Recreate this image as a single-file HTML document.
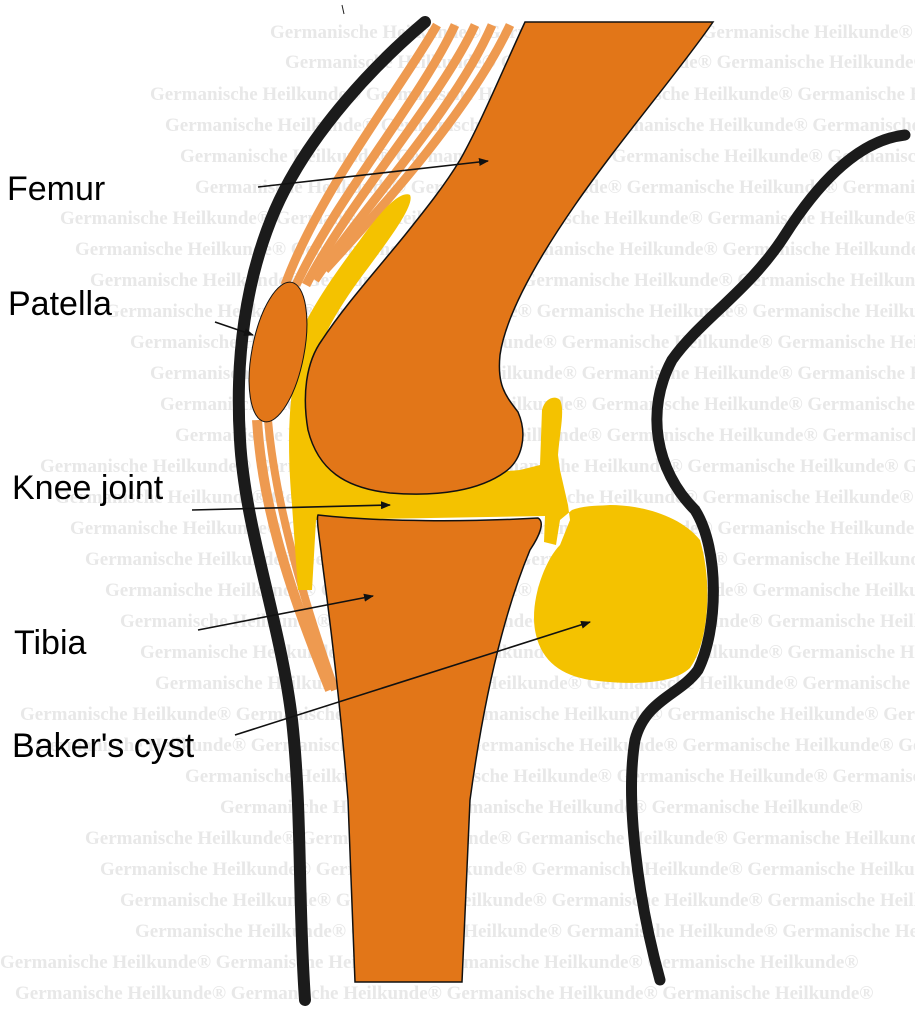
<!DOCTYPE html>
<html><head><meta charset="utf-8"><style>
html,body{margin:0;padding:0;background:#fff;}
svg{display:block;}
.wm{font-family:"Liberation Serif",serif;font-size:19px;fill:#e8e8e8;font-weight:bold;}
.lb{font-family:"Liberation Sans",sans-serif;font-size:34px;fill:#000;}
</style></head><body>
<svg width="915" height="1024" viewBox="0 0 915 1024" xmlns="http://www.w3.org/2000/svg">
<defs><marker id="ah" markerWidth="10" markerHeight="8" refX="9" refY="4" orient="auto" markerUnits="userSpaceOnUse" viewBox="0 0 10 8"><path d="M0,0 L10,4 L0,8 z" fill="#111"/></marker></defs>
<g class="wm">
<text x="270" y="38">Germanische Heilkunde®  Germanische Heilkunde®  Germanische Heilkunde®</text>
<text x="285" y="68">Germanische Heilkunde®  Germanische Heilkunde®  Germanische Heilkunde®</text>
<text x="150" y="100">Germanische Heilkunde®  Germanische Heilkunde®  Germanische Heilkunde®  Germanische Heilkunde®</text>
<text x="165" y="131">Germanische Heilkunde®  Germanische Heilkunde®  Germanische Heilkunde®  Germanische Heilkunde®</text>
<text x="180" y="162">Germanische Heilkunde®  Germanische Heilkunde®  Germanische Heilkunde®  Germanische Heilkunde®</text>
<text x="195" y="193">Germanische Heilkunde®  Germanische Heilkunde®  Germanische Heilkunde®  Germanische Heilkunde®</text>
<text x="60" y="224">Germanische Heilkunde®  Germanische Heilkunde®  Germanische Heilkunde®  Germanische Heilkunde®  Germanische Heilkunde®</text>
<text x="75" y="255">Germanische Heilkunde®  Germanische Heilkunde®  Germanische Heilkunde®  Germanische Heilkunde®  Germanische Heilkunde®</text>
<text x="90" y="286">Germanische Heilkunde®  Germanische Heilkunde®  Germanische Heilkunde®  Germanische Heilkunde®  Germanische Heilkunde®</text>
<text x="105" y="317">Germanische Heilkunde®  Germanische Heilkunde®  Germanische Heilkunde®  Germanische Heilkunde®  Germanische Heilkunde®</text>
<text x="130" y="348">Germanische Heilkunde®  Germanische Heilkunde®  Germanische Heilkunde®  Germanische Heilkunde®  Germanische Heilkunde®</text>
<text x="150" y="379">Germanische Heilkunde®  Germanische Heilkunde®  Germanische Heilkunde®  Germanische Heilkunde®  Germanische Heilkunde®</text>
<text x="160" y="410">Germanische Heilkunde®  Germanische Heilkunde®  Germanische Heilkunde®  Germanische Heilkunde®  Germanische Heilkunde®</text>
<text x="175" y="441">Germanische Heilkunde®  Germanische Heilkunde®  Germanische Heilkunde®  Germanische Heilkunde®  Germanische Heilkunde®</text>
<text x="40" y="472">Germanische Heilkunde®  Germanische Heilkunde®  Germanische Heilkunde®  Germanische Heilkunde®  Germanische Heilkunde®</text>
<text x="55" y="503">Germanische Heilkunde®  Germanische Heilkunde®  Germanische Heilkunde®  Germanische Heilkunde®  Germanische Heilkunde®</text>
<text x="70" y="534">Germanische Heilkunde®  Germanische Heilkunde®  Germanische Heilkunde®  Germanische Heilkunde®  Germanische Heilkunde®</text>
<text x="85" y="565">Germanische Heilkunde®  Germanische Heilkunde®  Germanische Heilkunde®  Germanische Heilkunde®  Germanische Heilkunde®</text>
<text x="105" y="596">Germanische Heilkunde®  Germanische Heilkunde®  Germanische Heilkunde®  Germanische Heilkunde®  Germanische Heilkunde®</text>
<text x="120" y="627">Germanische Heilkunde®  Germanische Heilkunde®  Germanische Heilkunde®  Germanische Heilkunde®  Germanische Heilkunde®</text>
<text x="140" y="658">Germanische Heilkunde®  Germanische Heilkunde®  Germanische Heilkunde®  Germanische Heilkunde®  Germanische Heilkunde®</text>
<text x="155" y="689">Germanische Heilkunde®  Germanische Heilkunde®  Germanische Heilkunde®  Germanische Heilkunde®</text>
<text x="20" y="720">Germanische Heilkunde®  Germanische Heilkunde®  Germanische Heilkunde®  Germanische Heilkunde®  Germanische Heilkunde</text>
<text x="35" y="751">Germanische Heilkunde®  Germanische Heilkunde®  Germanische Heilkunde®  Germanische Heilkunde®  Germanische Heilkunde</text>
<text x="185" y="782">Germanische Heilkunde®  Germanische Heilkunde®  Germanische Heilkunde®  Germanische Heilkunde</text>
<text x="220" y="813">Germanische Heilkunde®  Germanische Heilkunde®  Germanische Heilkunde®</text>
<text x="85" y="844">Germanische Heilkunde®  Germanische Heilkunde®  Germanische Heilkunde®  Germanische Heilkunde®</text>
<text x="100" y="875">Germanische Heilkunde®  Germanische Heilkunde®  Germanische Heilkunde®  Germanische Heilkunde®</text>
<text x="120" y="906">Germanische Heilkunde®  Germanische Heilkunde®  Germanische Heilkunde®  Germanische Heilkunde®</text>
<text x="135" y="937">Germanische Heilkunde®  Germanische Heilkunde®  Germanische Heilkunde®  Germanische Heilkunde®</text>
<text x="0" y="968">Germanische Heilkunde®  Germanische Heilkunde®  Germanische Heilkunde®  Germanische Heilkunde®</text>
<text x="15" y="999">Germanische Heilkunde®  Germanische Heilkunde®  Germanische Heilkunde®  Germanische Heilkunde®</text>
</g>
<!-- tendons -->
<g stroke="#ee9a50" stroke-width="9" fill="none">
<path d="M437,25 C400,90 320,190 285,285"/>
<path d="M455,25 C420,100 335,200 296,285"/>
<path d="M475,25 C440,100 350,200 306,285"/>
<path d="M492,25 C455,110 365,205 315,280"/>
<path d="M510,25 C470,110 380,210 325,270"/>
<path d="M257,420 C262,500 285,580 330,690" stroke-width="10"/>
<path d="M268,420 C275,500 300,590 335,690" stroke-width="8"/>
</g>
<!-- yellow strip -->
<path d="M410,195 C400,190 380,212 360,240 C330,280 302,320 290,360 L310,380 C318,340 340,305 368,268 C390,238 415,205 410,195 Z" fill="#f4c200"/>
<!-- yellow joint + cyst -->
<path d="M300,350 C286,400 288,460 292,505 L298,590 L312,590 L316,520 L545,516 L544,542 L556,545 L560,520 L572,510 C585,505 600,506 610,505 C640,505 680,515 700,540 C712,580 710,640 690,668 C672,685 630,685 590,680 C560,675 540,660 535,630 C530,600 545,560 560,545 L570,520 L568,505 L560,470 L558,455 C560,430 565,410 560,400 C555,395 545,398 542,410 L540,465 L520,470 C470,475 340,470 330,460 C300,420 315,380 325,345 Z" fill="#f4c200"/>
<!-- femur -->
<path d="M525,22 L713,22 C680,70 620,140 575,205 C530,270 505,320 500,355 C497,385 505,395 518,412 C528,435 522,460 505,472 C480,490 440,497 390,493 C345,488 318,470 308,430 C302,395 306,362 322,340 C345,305 375,272 405,235 C425,210 445,185 460,160 C480,125 505,65 525,22 Z" fill="#e27618" stroke="#111" stroke-width="1.5"/>
<!-- tibia -->
<path d="M318,515 C380,522 470,522 538,518 C545,522 540,535 530,550 C505,610 485,690 470,800 L462,982 L355,982 L348,800 C340,700 330,620 322,560 C320,540 316,520 318,515 Z" fill="#e27618" stroke="#111" stroke-width="1.5"/>
<!-- patella -->
<ellipse cx="278" cy="352" rx="26" ry="71" transform="rotate(11 278 352)" fill="#e27618" stroke="#111" stroke-width="1"/>
<!-- skin lines -->
<path d="M425,22 C380,60 310,130 275,210 C245,280 235,360 240,440 C245,530 280,620 292,720 C302,810 298,900 305,1000" fill="none" stroke="#1b1b1b" stroke-width="12" stroke-linecap="round"/>
<path d="M905,135 C860,140 820,180 785,235 C750,290 700,320 672,360 C645,410 655,470 695,510 C720,550 718,630 698,670 C680,695 645,700 635,740 C625,800 638,900 660,980" fill="none" stroke="#1b1b1b" stroke-width="11" stroke-linecap="round"/>
<line x1="342" y1="5" x2="344" y2="14" stroke="#222" stroke-width="1"/>
<!-- arrows -->
<g stroke="#111" stroke-width="1.6" fill="none" marker-end="url(#ah)">
<line x1="258" y1="187" x2="488" y2="161"/>
<line x1="215" y1="322" x2="253" y2="335"/>
<line x1="192" y1="510" x2="390" y2="505"/>
<line x1="198" y1="630" x2="373" y2="596"/>
<line x1="235" y1="735" x2="590" y2="622"/>
</g>
<text class="lb" x="7" y="200">Femur</text>
<text class="lb" x="8" y="315">Patella</text>
<text class="lb" x="12" y="499">Knee joint</text>
<text class="lb" x="14" y="654">Tibia</text>
<text class="lb" x="12" y="757">Baker's cyst</text>
</svg>
</body></html>
